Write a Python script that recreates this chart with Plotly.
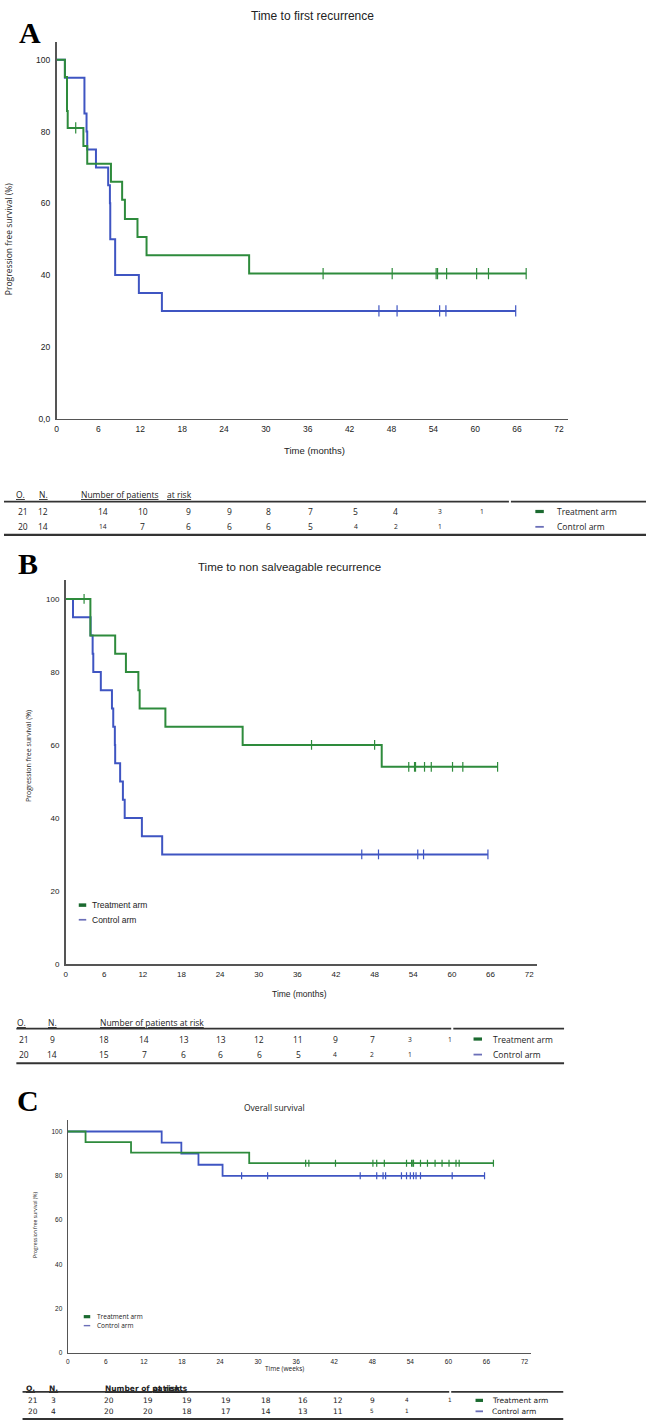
import plotly.graph_objects as go

W, H = 646, 1425

# ---------------- data ----------------
# Panel A - Time to first recurrence (months, % free)
a_trt_t = [0, 1.2, 1.5, 1.6, 3.85, 4.4, 7.8, 9.4, 9.8, 11.6, 12.9, 27.6, 67.3]
a_trt_s = [100, 95.2, 85.7, 81.0, 76.0, 71.0, 66.0, 61.0, 55.6, 50.6, 45.5, 40.4, 40.4]
a_trt_cens = [2.75, 38.2, 48.1, 54.4, 54.6, 55.9, 60.2, 61.9, 67.3]
a_ctl_t = [0, 1.2, 4.0, 4.3, 4.4, 5.65, 7.4, 7.65, 7.7, 8.4, 11.8, 15.1, 65.8]
a_ctl_s = [100, 95, 85, 80, 75, 70, 65, 60, 50, 40, 35, 30, 30]
a_ctl_cens = [46.2, 48.8, 54.9, 55.8, 65.8]

# Panel B - Time to non salveagable recurrence
b_trt_t = [0, 3.85, 7.7, 9.37, 11.3, 11.5, 15.5, 27.5, 49.1, 67.1]
b_trt_s = [100, 90, 85, 80, 75, 70, 65, 60, 54, 54]
b_trt_cens = [2.87, 38.2, 48.0, 53.3, 54.2, 54.35, 55.75, 56.8, 60.1, 61.7, 67.1]
b_ctl_t = [0, 1.15, 3.88, 4.2, 4.3, 5.47, 7.2, 7.4, 7.65, 7.7, 8.47, 8.9, 9.18, 11.85, 15.0, 65.6]
b_ctl_s = [100, 95, 90, 85, 80, 75, 70, 65, 60, 55, 50, 45, 40, 35, 30, 30]
b_ctl_cens = [46.0, 48.6, 54.7, 55.6, 65.6]

# Panel C - Overall survival
c_trt_t = [0, 2.8, 9.97, 28.6, 67.1]
c_trt_s = [100, 95.2, 90.5, 85.7, 85.7]
c_trt_cens = [37.5, 38.0, 42.2, 48.1, 48.7, 49.9, 53.4, 54.2, 54.4, 54.5, 55.6,
              56.7, 57.9, 59.0, 60.1, 61.2, 61.7, 67.1]
c_ctl_t = [0, 14.8, 17.9, 20.6, 24.4, 65.7]
c_ctl_s = [100, 95, 90, 85, 80, 80]
c_ctl_cens = [27.4, 31.5, 46.1, 48.7, 49.7, 50.1, 52.6, 53.4, 54.0, 54.5, 54.9, 55.6, 60.6, 65.7]

# Risk tables: O., N., number at risk
a_trt_on = ["21", "12"]
a_trt_risk = ["14", "10", "9", "9", "8", "7", "5", "4", "3", "1"]
a_ctl_on = ["20", "14"]
a_ctl_risk = ["14", "7", "6", "6", "6", "5", "4", "2", "1"]
b_trt_on = ["21", "9"]
b_trt_risk = ["18", "14", "13", "13", "12", "11", "9", "7", "3", "1"]
b_ctl_on = ["20", "14"]
b_ctl_risk = ["15", "7", "6", "6", "6", "5", "4", "2", "1"]
c_trt_on = ["21", "3"]
c_trt_risk = ["20", "19", "19", "19", "18", "16", "12", "9", "4", "1"]
c_ctl_on = ["20", "4"]
c_ctl_risk = ["20", "20", "18", "17", "14", "13", "11", "5", "1"]

x_ticks = [0, 6, 12, 18, 24, 30, 36, 42, 48, 54, 60, 66, 72]
y_ticks = [0, 20, 40, 60, 80, 100]
a_y_ticktext = ["0,0", "20", "40", "60", "80", "100"]
bc_y_ticktext = ["0", "20", "40", "60", "80", "100"]

series_names = ["Treatment arm", "Control arm"]

# ---------------- style ----------------
GREEN = "#2e8b3c"
BLUE = "#3f55c2"
LEG_GREEN = "#1b6a30"
LEG_BLUE = "#6b6fb8"
AXIS = "#555555"
TXT = "#222222"
NARROW = "Liberation Sans Narrow, Arial Narrow, Liberation Sans, Arial, sans-serif"
SANS = "Open Sans, Liberation Sans, sans-serif"
WIDE = "DejaVu Sans, Verdana, sans-serif"
SERIF = "Liberation Serif, Times New Roman, serif"


def px(x):
    return x / W


def py(y):
    return 1 - y / H


def surv_at(t, times, survs):
    s = survs[0]
    for ti, si in zip(times, survs):
        if ti <= t:
            s = si
    return s


fig = go.Figure()
annotations = []
shapes = []


def ann(text, x, y, size, family=SANS, xanchor="center", color=TXT, angle=0, yanchor="middle"):
    annotations.append(dict(text=text, x=px(x), y=py(y), xref="paper", yref="paper",
                            showarrow=False, xanchor=xanchor, yanchor=yanchor, textangle=angle,
                            font=dict(size=size, family=family, color=color)))


def hline(x0, x1, y, width=1.5, color="#333333"):
    shapes.append(dict(type="line", xref="paper", yref="paper", x0=px(x0), x1=px(x1),
                       y0=py(y), y1=py(y), line=dict(color=color, width=width)))


panels = [
    dict(key="", x0=54.7, xend=567.9, ppx=7.0, y0=420.0, ytop=42.0, ppy=3.6,
         trt=(a_trt_t, a_trt_s, a_trt_cens), ctl=(a_ctl_t, a_ctl_s, a_ctl_cens),
         yticktext=a_y_ticktext, tickfont=8.5, lw=2.0, msize=8, axw=1.6),
    dict(key="2", x0=63.8, xend=536.2, ppx=6.458, y0=967.3, ytop=581.7, ppy=3.663,
         trt=(b_trt_t, b_trt_s, b_trt_cens), ctl=(b_ctl_t, b_ctl_s, b_ctl_cens),
         yticktext=bc_y_ticktext, tickfont=8, lw=2.0, msize=7, axw=1.6),
    dict(key="3", x0=66.0, xend=530.9, ppx=6.363, y0=1357.7, ytop=1124.3, ppy=2.222,
         trt=(c_trt_t, c_trt_s, c_trt_cens), ctl=(c_ctl_t, c_ctl_s, c_ctl_cens),
         yticktext=bc_y_ticktext, tickfont=6.5, lw=1.8, msize=5, axw=1.2),
]

layout_axes = {}
for p in panels:
    k = p["key"]
    xr = (p["xend"] - p["x0"]) / p["ppx"]
    yr = (p["y0"] - p["ytop"]) / p["ppy"]
    xa = "x" + k
    ya = "y" + k
    for name, (t, s, cens), col in ((series_names[1], p["ctl"], BLUE), (series_names[0], p["trt"], GREEN)):
        fig.add_trace(go.Scatter(x=t, y=s, mode="lines", line=dict(shape="hv", color=col, width=p["lw"]),
                                 name=name, xaxis=xa, yaxis=ya, showlegend=False))
        fig.add_trace(go.Scatter(x=cens, y=[surv_at(c, t, s) for c in cens], mode="markers",
                                 marker=dict(symbol="line-ns", size=p["msize"],
                                             line=dict(color=col, width=1.2)),
                                 xaxis=xa, yaxis=ya, showlegend=False, name=name))
    layout_axes["xaxis" + k] = dict(domain=[px(p["x0"]), px(p["xend"])], range=[0, xr],
                                    anchor=ya, showline=True, linecolor=AXIS, linewidth=p["axw"],
                                    showgrid=False, zeroline=False, tickvals=x_ticks,
                                    ticks="outside", ticklen=2, tickcolor="rgba(0,0,0,0)",
                                    tickfont=dict(size=p["tickfont"], family=NARROW, color=TXT),
                                    fixedrange=True)
    layout_axes["yaxis" + k] = dict(domain=[py(p["y0"]), py(p["ytop"])], range=[0, yr],
                                    anchor=xa, showline=True, linecolor=AXIS, linewidth=p["axw"],
                                    showgrid=False, zeroline=False, tickvals=y_ticks,
                                    ticktext=p["yticktext"], ticks="outside", ticklen=3,
                                    tickcolor="rgba(0,0,0,0)",
                                    tickfont=dict(size=p["tickfont"], family=NARROW, color=TXT),
                                    fixedrange=True)

# ---------------- panel letters, titles, axis titles ----------------
ann("<b>A</b>", 28, 33, 30, SERIF, color="#000")
ann("<b>B</b>", 26, 565, 30, SERIF, color="#000")
ann("<b>C</b>", 26, 1104, 30, SERIF, color="#000")

ann("Time to first recurrence", 311.7, 16, 12, NARROW)
ann("Time to non salveagable recurrence", 288, 569, 11.5, NARROW)
ann("Overall survival", 273.7, 1111.5, 8.5, SANS)

ann("Time (months)", 313.8, 452.3, 9.5, NARROW)
ann("Time (months)", 298.4, 997.7, 8.5, NARROW)
ann("Time (weeks)", 283, 1373, 6.5, SANS)

ann("Progression free survival (%)", 6, 240, 8.5, SANS, angle=-90)
ann("Progression free survival (%)", 26.8, 759, 7, SANS, angle=-90)
ann("Progression free survival (%)", 32.9, 1229.5, 5, SANS, angle=-90)

# in-plot legends (B, C)
for (dx0, dx1, tx, ys, fs, fam, lw) in [(77, 84.5, 88.5, (908.3, 923.0), 8.5, NARROW, 2.5),
                                        (82, 88.5, 93.4, (1321.3, 1330.3), 6.5, SANS, 2.2)]:
    for name, col, yy, w in ((series_names[0], LEG_GREEN, ys[0], lw + 1), (series_names[1], LEG_BLUE, ys[1], lw - 0.8)):
        hline(dx0, dx1, yy, w, col)
        ann(name, tx, yy, fs, fam, xanchor="left")

# ---------------- risk tables ----------------
tables = [
    dict(font=SANS, fs=8.5, hdr_y=496, row_y=(513.3, 528.7), top_y=503.3, bot_y=536.7,
         o_x=19, n_x=41.5, num_x=77.4, risk_x=164, risk_anchor="left",
         cols=[101, 141, 187, 228, 267, 309.5, 354.7, 395, 439.5, 481],
         line_l=2, gap=(508.5, 510.5), line_r=646, leg=(535, 543.5, 554.7),
         trt=(a_trt_on, a_trt_risk, {8, 9}), ctl=(a_ctl_on, a_ctl_risk, {0, 6, 7, 8}),
         hdr_bold=False),
    dict(font=SANS, fs=8.5, hdr_y=1026, row_y=(1042.7, 1058.3), top_y=1032.3, bot_y=1067,
         o_x=20, n_x=50.2, num_x=96.7, risk_x=None, risk_anchor="left",
         cols=[102, 142.8, 182.3, 219.3, 258, 297.1, 334.2, 371.6, 409.5, 449.8],
         line_l=14.4, gap=(450.6, 452.7), line_r=563.8, leg=(473, 481.5, 491),
         trt=(b_trt_on, b_trt_risk, {8, 9}), ctl=(b_ctl_on, b_ctl_risk, {6, 7, 8}),
         hdr_bold=False),
    dict(font=WIDE, fs=7.5, hdr_y=1393.3, row_y=(1405.3, 1416.3), top_y=1396.7, bot_y=1424,
         o_x=29, n_x=52, num_x=101.7, risk_x=181.7, risk_anchor="right",
         cols=[107.8, 146.9, 185.2, 224.3, 264.6, 301.6, 336.6, 371.6, 406.6, 449.8],
         line_l=20.6, gap=(448.6, 450.6), line_r=563, leg=(475, 482.5, 489.7),
         trt=(c_trt_on, c_trt_risk, {8, 9}), ctl=(c_ctl_on, c_ctl_risk, {7, 8}),
         hdr_bold=True),
]

for tb in tables:
    f, fs = tb["font"], tb["fs"]
    b0, b1 = ("<b>", "</b>") if tb["hdr_bold"] else ("", "")
    ann(f"{b0}<u>O.</u>{b1}", tb["o_x"], tb["hdr_y"], fs, f)
    ann(f"{b0}<u>N.</u>{b1}", tb["n_x"], tb["hdr_y"], fs, f)
    if tb["risk_x"] is None:
        ann(f"{b0}<u>Number of patients at risk</u>{b1}", tb["num_x"], tb["hdr_y"], fs, f, xanchor="left")
    else:
        ann(f"{b0}<u>Number of patients</u>{b1}", tb["num_x"], tb["hdr_y"], fs, f, xanchor="left")
        ann(f"{b0}<u>at risk</u>{b1}", tb["risk_x"], tb["hdr_y"], fs, f, xanchor=tb["risk_anchor"])
    hline(tb["line_l"], tb["gap"][0], tb["top_y"], 1.8, "#333333")
    hline(tb["gap"][1], tb["line_r"], tb["top_y"], 1.8, "#333333")
    hline(tb["line_l"], tb["line_r"], tb["bot_y"], 2.2, "#333333")
    for (on, risk, small), yy, name, col, lwd in ((tb["trt"], tb["row_y"][0], series_names[0], LEG_GREEN, 3.2),
                                                  (tb["ctl"], tb["row_y"][1], series_names[1], LEG_BLUE, 1.8)):
        ann(on[0], tb["o_x"] + 2, yy, fs, f)
        ann(on[1], tb["n_x"], yy, fs, f)
        for i, v in enumerate(risk):
            ann(v, tb["cols"][i], yy, fs - 1.8 if i in small else fs, f)
        hline(tb["leg"][0], tb["leg"][1], yy, lwd, col)
        ann(name, tb["leg"][2], yy, fs, f, xanchor="left")

fig.update_layout(width=W, height=H, autosize=False, margin=dict(l=0, r=0, t=0, b=0),
                  paper_bgcolor="white", plot_bgcolor="white", showlegend=False,
                  annotations=annotations, shapes=shapes, **layout_axes)

fig.write_html("out.html", config={"displayModeBar": False, "staticPlot": True},
               post_script="document.body.style.margin='0';document.body.style.overflow='hidden';")
